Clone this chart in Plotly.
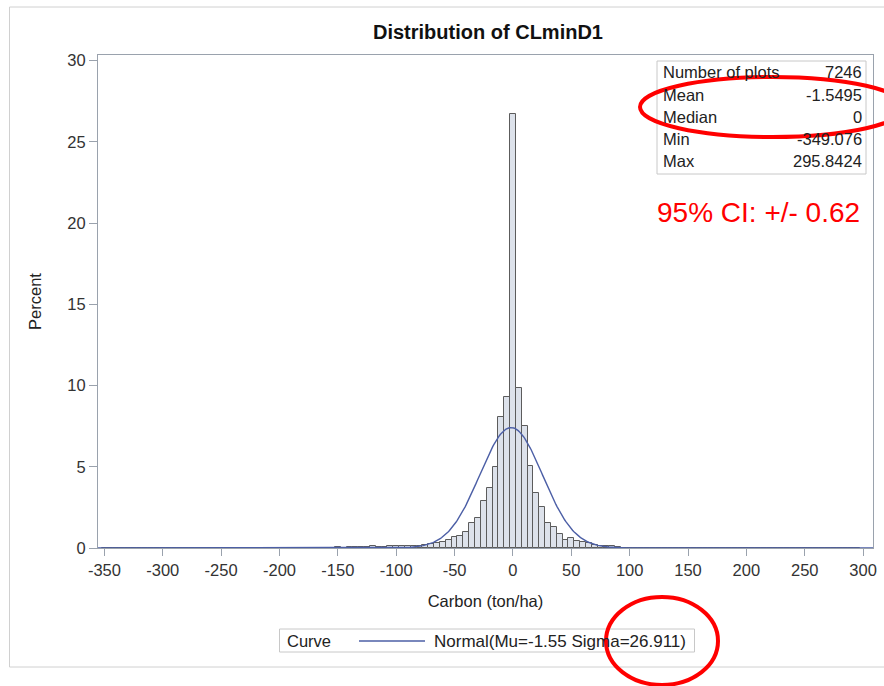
import plotly.graph_objects as go
import numpy as np

# ---------------- data ----------------
bin_width = 5
bin_centers = list(range(-350, 300, 5))  # -350 ... 295

# percent of plots in each 5-unit bin
tail_left = [  # -350 ... -140
    0.014, 0, 0, 0, 0, 0, 0, 0, 0, 0,          # -350 .. -305
    0, 0, 0.014, 0, 0, 0, 0, 0, 0, 0.014,      # -300 .. -255
    0, 0, 0, 0, 0, 0, 0.014, 0, 0, 0,          # -250 .. -205
    0, 0.014, 0, 0, 0.028, 0, 0.014, 0, 0.028, 0.014,  # -200 .. -155
    0.041, 0.028, 0.041,                       # -150 .. -140
]
core = [  # -135 ... 100
    0.055, 0.04, 0.08, 0.10, 0.06, 0.05, 0.10, 0.12, 0.11, 0.12,   # -135 .. -90
    0.15, 0.14, 0.20, 0.22, 0.31, 0.35, 0.49, 0.68, 0.74, 0.98,     # -85 .. -40
    1.56, 1.87, 2.91, 3.71, 5.00, 8.08, 9.27, 26.7, 9.85, 7.53,     # -35 .. 10
    5.05, 3.36, 2.50, 1.56, 1.31, 0.86, 0.49, 0.64, 0.41, 0.35,     # 15 .. 60
    0.29, 0.20, 0.15, 0.14, 0.12, 0.07, 0.03, 0.014,                # 65 .. 100
]
tail_right = [  # 105 ... 295
    0, 0, 0, 0.014, 0, 0, 0, 0, 0, 0.014,      # 105 .. 150
    0, 0, 0, 0, 0, 0, 0, 0, 0, 0.014,          # 155 .. 200
    0, 0, 0, 0, 0, 0, 0, 0, 0, 0,              # 205 .. 250
    0, 0, 0, 0, 0, 0, 0, 0, 0, 0.014,          # 255 .. 295
]
percent = tail_left + core + tail_right

stats_labels = ["Number of plots", "Mean", "Median", "Min", "Max"]
stats_values = ["7246", "-1.5495", "0", "-349.076", "295.8424"]

mu = -1.55
sigma = 26.911

x_ticks = list(range(-350, 301, 50))
x_tick_text = [str(v) for v in x_ticks]
y_ticks = list(range(0, 31, 5))
y_tick_text = [str(v) for v in y_ticks]

# ---------------- geometry helpers ----------------
W, H = 884, 686
L, R, T, B = 98, 11, 55, 138
PW = W - L - R
PH = H - T - B

def px(x):
    return (x - L) / PW

def py(y):
    return (H - B - y) / PH

FONT = "Arial, Liberation Sans, sans-serif"
FS = 16.5
curve_color = "#4c5fa6"

# normal curve scaled to percent per bin
xs = np.linspace(-355.5, 308.5, 700)
ys = 100 * bin_width * np.exp(-0.5 * ((xs - mu) / sigma) ** 2) / (sigma * np.sqrt(2 * np.pi))

fig = go.Figure()
fig.add_trace(go.Bar(
    x=bin_centers, y=percent, width=bin_width,
    marker=dict(color="#dde2eb", line=dict(color="#5c5c5c", width=1)),
    showlegend=False, hoverinfo="x+y",
))
fig.add_trace(go.Scatter(
    x=xs, y=ys, mode="lines", line=dict(color=curve_color, width=1.4),
    name="Normal(Mu=-1.55 Sigma=26.911)", showlegend=False,
))

shapes = []
annotations = []

# outer frame
shapes.append(dict(type="rect", xref="paper", yref="paper",
                   x0=px(9.5), x1=px(900), y0=py(667), y1=py(7),
                   line=dict(color="#d0d0d0", width=1)))

# stats inset
shapes.append(dict(type="rect", xref="paper", yref="paper",
                   x0=px(657), x1=px(866), y0=py(174), y1=py(61),
                   line=dict(color="#c8c8c8", width=1), fillcolor="white", layer="above"))
row_y = [72, 95, 117, 139, 161]
for lab, val, yy in zip(stats_labels, stats_values, row_y):
    annotations.append(dict(text=lab, xref="paper", yref="paper", x=px(661), y=py(yy),
                            xanchor="left", yanchor="middle", showarrow=False,
                            font=dict(family=FONT, size=FS, color="#222")))
    annotations.append(dict(text=val, xref="paper", yref="paper", x=px(863.5), y=py(yy),
                            xanchor="right", yanchor="middle", showarrow=False,
                            font=dict(family=FONT, size=FS, color="#222")))

# CI text
annotations.append(dict(text="95% CI: +/- 0.62", xref="paper", yref="paper",
                        x=px(862), y=py(213), xanchor="right", yanchor="middle",
                        showarrow=False, font=dict(family=FONT, size=28, color="#ff0000")))

# legend box
shapes.append(dict(type="rect", xref="paper", yref="paper",
                   x0=px(279.5), x1=px(694.5), y0=py(652), y1=py(629),
                   line=dict(color="#c8c8c8", width=1)))
shapes.append(dict(type="line", xref="paper", yref="paper",
                   x0=px(359), x1=px(425), y0=py(641), y1=py(641),
                   line=dict(color=curve_color, width=1.5)))
annotations.append(dict(text="Curve", xref="paper", yref="paper", x=px(285), y=py(641),
                        xanchor="left", yanchor="middle", showarrow=False,
                        font=dict(family=FONT, size=FS, color="#222")))
annotations.append(dict(text="Normal(Mu=-1.55 Sigma=26.911)", xref="paper", yref="paper",
                        x=px(432), y=py(641), xanchor="left", yanchor="middle", showarrow=False,
                        font=dict(family=FONT, size=17, color="#222")))

# red ellipses
shapes.append(dict(type="circle", xref="paper", yref="paper",
                   x0=px(640), x1=px(905), y0=py(137), y1=py(77),
                   line=dict(color="#ff0000", width=4), layer="above"))
shapes.append(dict(type="circle", xref="paper", yref="paper",
                   x0=px(606), x1=px(718), y0=py(685), y1=py(597),
                   line=dict(color="#ff0000", width=4), layer="above"))

fig.update_layout(
    width=W, height=H,
    margin=dict(l=L, r=R, t=T, b=B, autoexpand=False),
    paper_bgcolor="white", plot_bgcolor="white",
    bargap=0,
    title=dict(text="<b>Distribution of CLminD1</b>", x=px(488), xref="paper",
               y=1 - 32 / H, yref="container", xanchor="center", yanchor="middle",
               font=dict(family=FONT, size=20, color="#111")),
    font=dict(family=FONT, size=FS, color="#333"),
    shapes=shapes, annotations=annotations,
    showlegend=False,
)
fig.update_xaxes(
    range=[-355.5, 308.5], tickvals=x_ticks, ticktext=x_tick_text, ticks="outside", ticklen=7,
    tickcolor="#9aa2ad", showline=True, linecolor="#9aa2ad", mirror=True,
    showgrid=False, zeroline=False, automargin=False,
    title=dict(text="Carbon (ton/ha)", standoff=17, font=dict(size=FS, color="#222")),
    tickfont=dict(size=FS, color="#333"),
)
fig.update_yaxes(
    range=[0, 30.35], tickvals=y_ticks, ticktext=y_tick_text, ticks="outside", ticklen=8,
    tickcolor="#9aa2ad", showline=True, linecolor="#9aa2ad", mirror=True,
    showgrid=False, zeroline=False, automargin=False,
    title=dict(text="Percent", standoff=21, font=dict(size=FS, color="#222")),
    tickfont=dict(size=FS, color="#333"),
)

fig.write_html("out.html")
